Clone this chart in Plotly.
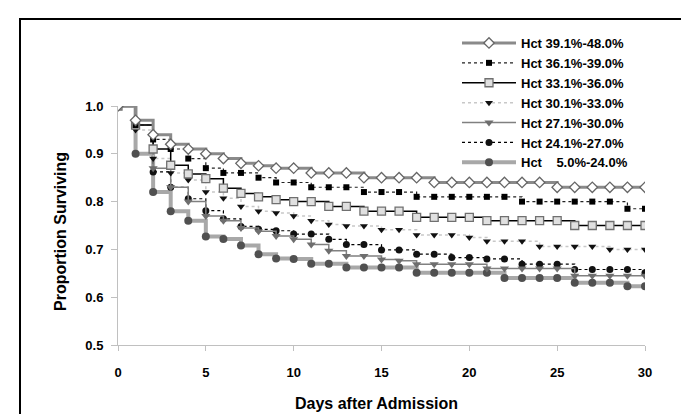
import plotly.graph_objects as go

days = list(range(31))

series_names = [
    "Hct 39.1%-48.0%",
    "Hct 36.1%-39.0%",
    "Hct 33.1%-36.0%",
    "Hct 30.1%-33.0%",
    "Hct 27.1%-30.0%",
    "Hct 24.1%-27.0%",
    "Hct \u00a0\u00a0\u00a05.0%-24.0%",
]

hct_39_48 = [1.0, 0.97, 0.94, 0.92, 0.91, 0.90, 0.89, 0.88, 0.875, 0.87, 0.87, 0.86, 0.86, 0.86, 0.85, 0.85,
             0.85, 0.85, 0.84, 0.84, 0.84, 0.84, 0.84, 0.84, 0.84, 0.83, 0.83, 0.83, 0.83, 0.83, 0.83]
hct_36_39 = [1.0, 0.96, 0.93, 0.91, 0.89, 0.87, 0.86, 0.86, 0.85, 0.84, 0.84, 0.83, 0.83, 0.83, 0.82, 0.82,
             0.82, 0.81, 0.81, 0.81, 0.81, 0.81, 0.81, 0.80, 0.80, 0.80, 0.80, 0.80, 0.80, 0.785, 0.785]
hct_33_36 = [1.0, 0.96, 0.91, 0.876, 0.858, 0.848, 0.828, 0.817, 0.81, 0.804, 0.80, 0.80, 0.79, 0.79, 0.78, 0.78,
             0.78, 0.767, 0.767, 0.767, 0.767, 0.76, 0.76, 0.76, 0.76, 0.76, 0.75, 0.75, 0.75, 0.75, 0.75]
hct_30_33 = [1.0, 0.95, 0.89, 0.86, 0.845, 0.82, 0.807, 0.79, 0.78, 0.776, 0.77, 0.76, 0.752, 0.749, 0.749, 0.741,
             0.741, 0.73, 0.73, 0.73, 0.725, 0.717, 0.717, 0.717, 0.706, 0.706, 0.706, 0.706, 0.70, 0.70, 0.70]
hct_27_30 = [1.0, 0.96, 0.87, 0.83, 0.80, 0.77, 0.76, 0.745, 0.738, 0.728, 0.721, 0.71, 0.697, 0.686, 0.686, 0.679,
             0.676, 0.669, 0.669, 0.669, 0.669, 0.66, 0.66, 0.66, 0.66, 0.66, 0.645, 0.645, 0.645, 0.645, 0.645]
hct_24_27 = [1.0, 0.96, 0.862, 0.83, 0.806, 0.781, 0.764, 0.748, 0.742, 0.739, 0.732, 0.732, 0.721, 0.71, 0.71, 0.699,
             0.699, 0.69, 0.69, 0.683, 0.683, 0.68, 0.68, 0.669, 0.669, 0.669, 0.658, 0.658, 0.658, 0.658, 0.651]
hct_5_24 = [1.0, 0.90, 0.82, 0.78, 0.76, 0.727, 0.722, 0.708, 0.69, 0.681, 0.68, 0.67, 0.67, 0.662, 0.662, 0.662,
            0.662, 0.651, 0.651, 0.651, 0.651, 0.651, 0.64, 0.64, 0.64, 0.64, 0.63, 0.63, 0.63, 0.623, 0.623]

x_ticks = [0, 5, 10, 15, 20, 25, 30]
y_ticks = [0.5, 0.6, 0.7, 0.8, 0.9, 1.0]

values = [hct_39_48, hct_36_39, hct_33_36, hct_30_33, hct_27_30, hct_24_27, hct_5_24]

styles = [
    dict(line=dict(color="#8a8a8a", width=3), marker=dict(symbol="diamond", size=8, color="white",
                                                          line=dict(color="#666666", width=1.3))),
    dict(line=dict(color="#222222", width=1.2, dash="dot"), marker=dict(symbol="square", size=6, color="black")),
    dict(line=dict(color="#000000", width=1.5), marker=dict(symbol="square", size=8, color="#e0e0e0",
                                                            line=dict(color="#707070", width=1.3))),
    dict(line=dict(color="#c8c8c8", width=1.5, dash="dot"), marker=dict(symbol="triangle-down", size=7,
                                                                        color="#111111")),
    dict(line=dict(color="#808080", width=1.5), marker=dict(symbol="triangle-down", size=8, color="#6e6e6e")),
    dict(line=dict(color="#000000", width=1.2, dash="dot"), marker=dict(symbol="circle", size=7, color="#111111")),
    dict(line=dict(color="#a8a8a8", width=4), marker=dict(symbol="circle", size=8, color="#505050")),
]

fig = go.Figure()
for name, vals, st in reversed(list(zip(series_names, values, styles))):
    fig.add_trace(go.Scatter(x=days, y=vals, name=name, mode="lines+markers", line_shape="hv",
                             line=st["line"], marker=st["marker"]))

L, R, T, B = 110, 52, 98, 77
W, H = 689, 414
pw, ph = W - L - R, H - T - B


def px_x(px):
    return (px - L) / pw


def px_y(py):
    return (H - B - py) / ph


font_family = "Arial, Liberation Sans, sans-serif"

fig.update_layout(
    width=W, height=H,
    margin=dict(l=L, r=R, t=T, b=B),
    paper_bgcolor="white", plot_bgcolor="white",
    showlegend=True,
    legend=dict(x=px_x(449), y=px_y(20), xanchor="left", yanchor="top", traceorder="reversed",
                font=dict(family=font_family, size=13, color="black", weight="bold"),
                itemwidth=54, bgcolor="rgba(0,0,0,0)", tracegroupgap=0),
    xaxis=dict(range=[0, 30], tickvals=x_ticks, showgrid=False, zeroline=False, showline=True,
               linecolor="#c0c0c0", linewidth=1, ticks="outside", ticklen=5, tickcolor="#c0c0c0",
               ticklabelstandoff=10,
               tickfont=dict(family=font_family, size=13, color="black", weight="bold")),
    yaxis=dict(range=[0.5, 1.0], tickvals=y_ticks, tickformat=".1f", showgrid=False, zeroline=False,
               showline=True, linecolor="#c0c0c0", linewidth=1, ticks="outside", ticklen=6,
               tickcolor="#c0c0c0", ticklabelstandoff=5,
               tickfont=dict(family=font_family, size=13, color="black", weight="bold")),
    annotations=[
        dict(text="Days after Admission", x=px_x(368), y=px_y(395), xref="paper", yref="paper", showarrow=False,
             xanchor="center", yanchor="middle",
             font=dict(family=font_family, size=16, color="black", weight="bold")),
        dict(text="Proportion Surviving", x=px_x(52), y=px_y(224), xref="paper", yref="paper", showarrow=False,
             xanchor="center", yanchor="middle", textangle=-90,
             font=dict(family=font_family, size=16, color="black", weight="bold")),
    ],
    shapes=[
        dict(type="rect", xref="paper", yref="paper", x0=px_x(12), x1=px_x(687), y0=px_y(430), y1=px_y(11),
             line=dict(color="black", width=2), fillcolor="rgba(0,0,0,0)", layer="below"),
    ],
)

fig.write_html("out.html")
